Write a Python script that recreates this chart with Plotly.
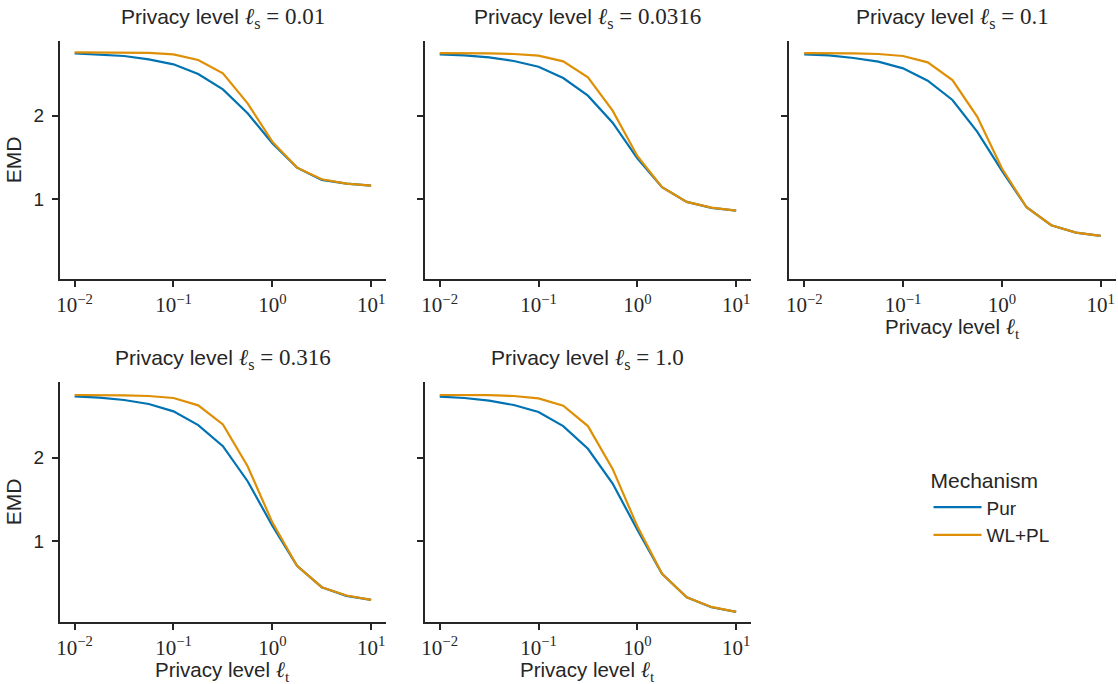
import plotly.graph_objects as go

# ---- data ----
lt = [10 ** (-2 + k / 4) for k in range(13)]
ls_labels = ["0.01", "0.0316", "0.1", "0.316", "1.0"]

pur = [
    [2.748, 2.736, 2.716, 2.676, 2.616, 2.50, 2.316, 2.028, 1.668, 1.376, 1.228, 1.184, 1.16],
    [2.736, 2.724, 2.700, 2.656, 2.588, 2.452, 2.240, 1.916, 1.488, 1.140, 0.964, 0.892, 0.86],
    [2.736, 2.724, 2.692, 2.648, 2.568, 2.420, 2.188, 1.808, 1.340, 0.900, 0.684, 0.596, 0.556],
    [2.732, 2.716, 2.688, 2.640, 2.552, 2.388, 2.136, 1.716, 1.184, 0.704, 0.448, 0.344, 0.296],
    [2.728, 2.712, 2.680, 2.628, 2.544, 2.376, 2.104, 1.688, 1.136, 0.608, 0.328, 0.208, 0.152],
]
wlpl = [
    [2.760, 2.760, 2.758, 2.755, 2.736, 2.668, 2.508, 2.148, 1.688, 1.376, 1.236, 1.184, 1.16],
    [2.752, 2.752, 2.748, 2.740, 2.720, 2.652, 2.460, 2.060, 1.516, 1.140, 0.964, 0.896, 0.86],
    [2.752, 2.752, 2.748, 2.740, 2.716, 2.640, 2.428, 1.988, 1.368, 0.900, 0.684, 0.596, 0.556],
    [2.748, 2.748, 2.744, 2.736, 2.712, 2.624, 2.396, 1.896, 1.224, 0.704, 0.448, 0.348, 0.296],
    [2.748, 2.748, 2.746, 2.736, 2.708, 2.620, 2.376, 1.864, 1.176, 0.608, 0.328, 0.212, 0.152],
]
xtick_vals = [0.01, 0.1, 1, 10]
xtick_text = ["10<sup>−2</sup>", "10<sup>−1</sup>", "10<sup>0</sup>", "10<sup>1</sup>"]
ytick_vals = [1, 2]

# ---- layout geometry ----
W, H = 1118, 684
col_px = [(57, 384), (423, 750), (788.5, 1115.5)]
row_px = [(40.7, 279.3), (382.3, 621.7)]
colors = {"Pur": "#0173B2", "WL+PL": "#DE8F05"}
AX = "#262626"
SANS = "Liberation Sans, Arial, sans-serif"
SERIF = "Liberation Serif, Times New Roman, serif"
FS = 21

fig = go.Figure()
layout = dict(
    width=W, height=H, margin=dict(l=0, r=0, t=0, b=0),
    plot_bgcolor="white", paper_bgcolor="white",
    font=dict(family=SANS, size=FS, color=AX),
    showlegend=True,
)
annotations = []
positions = [(0, 0), (0, 1), (0, 2), (1, 0), (1, 1)]
xlabel_panels = {2: 344, 3: 687, 4: 687}   # bottom edge (px) of x-axis title box
for i, (r, c) in enumerate(positions):
    n = i + 1
    xa = "xaxis" if n == 1 else f"xaxis{n}"
    ya = "yaxis" if n == 1 else f"yaxis{n}"
    xr = "x" if n == 1 else f"x{n}"
    yr = "y" if n == 1 else f"y{n}"
    x0, x1 = col_px[c]
    y0, y1 = row_px[r]
    layout[xa] = dict(
        domain=[x0 / W, x1 / W], anchor=yr, type="log", range=[-2.15, 1.15],
        tickvals=xtick_vals, ticktext=xtick_text,
        tickfont=dict(family=SERIF, size=21, color=AX),
        showline=True, linecolor=AX, linewidth=1.8, mirror=False,
        ticks="outside", ticklen=6, tickwidth=1.5, tickcolor=AX,
        showgrid=False, zeroline=False,
    )
    if i in xlabel_panels:
        annotations.append(dict(
            x=(x0 + x1) / 2 / W, y=1 - xlabel_panels[i] / H, xref="paper", yref="paper",
            xanchor="center", yanchor="bottom", showarrow=False,
            text="Privacy level <span style='font-family:Liberation Serif;font-size:22px'><i>ℓ</i><sub>t</sub></span>",
            font=dict(family=SANS, size=20.5, color=AX),
        ))
    layout[ya] = dict(
        domain=[1 - y1 / H, 1 - y0 / H], anchor=xr, range=[0.035, 2.9],
        tickvals=ytick_vals, showticklabels=(c == 0),
        tickfont=dict(family=SANS, size=19, color=AX),
        showline=True, linecolor=AX, linewidth=1.8,
        ticks="outside", ticklen=6, tickwidth=1.5, tickcolor=AX,
        showgrid=False, zeroline=False, ticklabelstandoff=4,
    )
    if c == 0:
        layout[ya]["title"] = dict(text="EMD", font=dict(family=SANS, size=FS, color=AX), standoff=6)
    for name, ys in (("Pur", pur[i]), ("WL+PL", wlpl[i])):
        fig.add_trace(go.Scatter(
            x=lt, y=ys, mode="lines", name=name, xaxis=xr, yaxis=yr,
            line=dict(color=colors[name], width=2.2),
            showlegend=(i == 0), legendgroup=name,
        ))
    annotations.append(dict(
        x=(x0 + x1) / 2 / W, y=1 - (y0 - 23) / H, xref="paper", yref="paper",
        xanchor="center", yanchor="middle", showarrow=False,
        text=("Privacy level <span style='font-family:Liberation Serif;font-size:23px'><i>ℓ</i><sub>s</sub> = "
              + ls_labels[i] + "</span>"),
        font=dict(family=SANS, size=FS, color=AX),
    ))

layout["annotations"] = annotations
layout["legend"] = dict(
    x=928 / W, y=1 - 461 / H, xanchor="left", yanchor="top",
    title=dict(text="Mechanism", font=dict(family=SANS, size=FS, color=AX)),
    font=dict(family=SANS, size=19, color=AX),
    bgcolor="rgba(0,0,0,0)", tracegroupgap=0, itemwidth=48,
)
fig.update_layout(**layout)
fig.write_html("out.html")
